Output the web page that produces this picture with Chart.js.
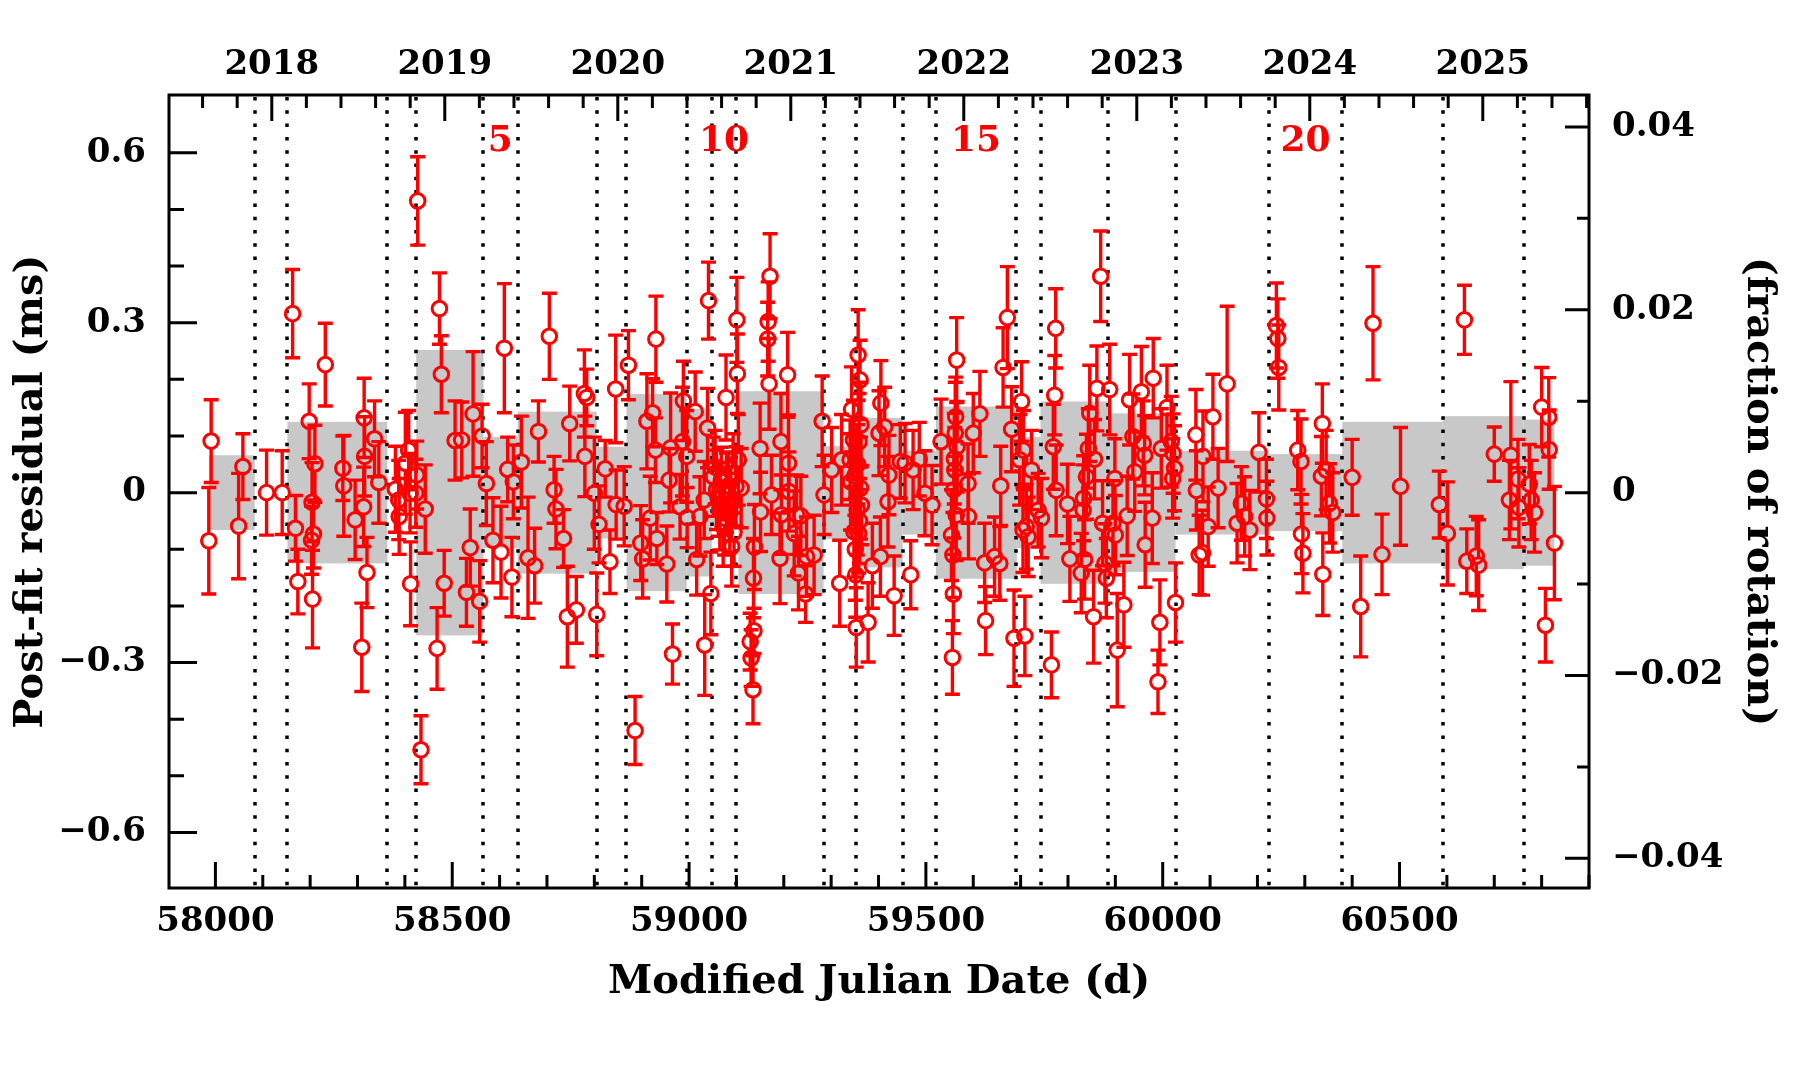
<!DOCTYPE html>
<html>
<head>
<meta charset="utf-8">
<script src="https://cdn.jsdelivr.net/npm/chart.js@4.4.0/dist/chart.umd.min.js"></script>
<style>
  html, body { margin: 0; padding: 0; background: #fff; }
  canvas { display: block; }
</style>
</head>
<body>
<canvas id="chart" width="1793" height="1081"></canvas>
<script>
"use strict";

// timing residuals: epoch (MJD), residual (ms), 1-sigma error (ms)
const MJD = [
  57986, 57991, 58049, 58058, 58108, 58141, 58163, 58169, 58174, 58198, 58203, 58204,
  58205, 58207, 58210, 58232, 58269, 58271, 58295, 58309, 58313, 58314, 58315, 58320,
  58336, 58345, 58380, 58387, 58388, 58401, 58408, 58411, 58412, 58423, 58425, 58427,
  58434, 58443, 58468, 58473, 58477, 58483, 58506, 58520, 58530, 58538, 58544, 58558,
  58563, 58572, 58586, 58603, 58610, 58617, 58626, 58629, 58646, 58660, 58674, 58682,
  58705, 58715, 58719, 58735, 58743, 58748, 58762, 58779, 58780, 58784, 58800, 58805,
  58810, 58823, 58833, 58845, 58846, 58863, 58872, 58886, 58898, 58902, 58911, 58918,
  58923, 58929, 58930, 58932, 58953, 58958, 58961, 58965, 58981, 58986, 58988, 58995,
  58996, 59013, 59016, 59023, 59032, 59033, 59039, 59041, 59046, 59051, 59055, 59058,
  59062, 59065, 59068, 59072, 59075, 59078, 59079, 59083, 59086, 59088, 59090, 59093,
  59095, 59099, 59101, 59102, 59104, 59110, 59129, 59131, 59135, 59136, 59137, 59138,
  59150, 59151, 59166, 59167, 59169, 59171, 59174, 59192, 59194, 59195, 59208, 59210,
  59211, 59222, 59227, 59231, 59236, 59246, 59248, 59264, 59281, 59285, 59301, 59318,
  59322, 59340, 59341, 59343, 59347, 59348, 59350, 59351, 59352, 59353, 59355, 59356,
  59357, 59358, 59359, 59360, 59361, 59362, 59363, 59364, 59378, 59387, 59401, 59404,
  59405, 59413, 59420, 59422, 59433, 59446, 59456, 59468, 59473, 59486, 59498, 59513,
  59532, 59554, 59556, 59557, 59558, 59559, 59560, 59561, 59562, 59563, 59564, 59565,
  59566, 59589, 59590, 59600, 59614, 59624, 59626, 59645, 59656, 59658, 59663, 59672,
  59681, 59686, 59698, 59702, 59705, 59706, 59709, 59712, 59716, 59723, 59737, 59744,
  59765, 59769, 59772, 59774, 59775, 59799, 59804, 59828, 59832, 59833, 59835, 59839,
  59843, 59846, 59854, 59856, 59861, 59869, 59873, 59878, 59881, 59888, 59895, 59899,
  59900, 59904, 59918, 59925, 59930, 59937, 59941, 59955, 59959, 59962, 59963, 59978,
  59980, 59990, 59994, 59997, 60009, 60018, 60021, 60022, 60025, 60027, 60070, 60071,
  60077, 60084, 60085, 60096, 60106, 60117, 60136, 60157, 60166, 60173, 60184, 60203,
  60219, 60220, 60240, 60243, 60245, 60285, 60292, 60293, 60296, 60335, 60337, 60338,
  60345, 60352, 60359, 60400, 60418, 60444, 60463, 60502, 60584, 60601, 60637, 60642,
  60662, 60667, 60700, 60732, 60735, 60750, 60752, 60774, 60778, 60785, 60800, 60808,
  60815, 60816, 60827
];

const RESID = [
  -0.085, 0.091, -0.059, 0.046, 0.000, 0.000, 0.316, -0.063, -0.157, 0.126, -0.084, -0.017,
  -0.188, -0.073, 0.051, 0.226, 0.043, 0.012, -0.048, -0.273, -0.025, 0.132, 0.064, -0.141,
  0.095, 0.018, 0.006, -0.013, -0.042, 0.052, 0.075, -0.001, -0.161, -0.001, 0.031, 0.515,
  -0.454, -0.029, -0.275, 0.325, 0.209, -0.160, 0.092, 0.093, -0.176, -0.097, 0.139, -0.192,
  0.100, 0.016, -0.084, -0.105, 0.255, 0.041, -0.149, 0.019, 0.054, -0.115, -0.129, 0.108,
  0.276, 0.005, -0.029, -0.081, -0.219, 0.122, -0.207, 0.175, 0.064, 0.168, -0.001, -0.215,
  -0.056, 0.042, -0.122, 0.183, -0.021, -0.024, 0.225, -0.420, -0.089, -0.117, 0.126, -0.045,
  0.141, 0.075, 0.271, -0.081, -0.126, 0.022, 0.079, -0.285, -0.025, 0.090, 0.162, 0.064,
  -0.044, 0.143, -0.118, -0.042, -0.013, -0.269, 0.114, 0.339, -0.178, 0.028, 0.045, 0.005,
  -0.012, -0.031, 0.020, -0.060, -0.045, 0.168, 0.000, 0.012, -0.036, -0.020, -0.095, 0.034,
  -0.070, 0.011, 0.305, 0.210, 0.058, 0.008, -0.263, -0.292, -0.348, -0.151, -0.244, -0.096,
  0.078, -0.034, 0.271, 0.302, 0.192, 0.382, -0.004, -0.116, 0.090, -0.039, 0.208, 0.052,
  0.002, -0.072, -0.039, -0.142, -0.041, -0.179, -0.113, -0.110, 0.126, -0.004, 0.040, -0.160,
  0.058, 0.058, 0.019, 0.147, 0.093, -0.069, 0.030, -0.100, -0.145, -0.238, -0.030, 0.050,
  0.243, -0.072, 0.090, -0.050, 0.199, 0.008, 0.120, -0.022, -0.229, -0.129, 0.105, -0.113,
  0.158, 0.116, -0.016, 0.031, -0.182, 0.055, 0.052, -0.145, 0.040, 0.059, -0.001, -0.022,
  0.090, -0.075, -0.291, -0.110, -0.179, 0.005, 0.060, 0.040, 0.105, 0.134, -0.040, 0.234,
  0.081, 0.016, -0.042, 0.105, 0.139, -0.124, -0.226, -0.113, -0.125, 0.012, 0.221, 0.309,
  0.112, -0.257, 0.058, 0.161, -0.066, 0.075, -0.253, -0.060, -0.078, 0.040, -0.031, -0.045,
  -0.304, 0.081, 0.172, 0.290, 0.004, -0.020, -0.117, -0.142, -0.031, -0.010, -0.118, 0.028,
  0.078, 0.140, -0.219, 0.059, 0.184, 0.382, -0.054, -0.125, -0.151, 0.182, -0.054, 0.025,
  -0.075, -0.278, -0.198, -0.041, 0.164, 0.099, 0.037, 0.178, 0.087, 0.066, -0.092, -0.045,
  0.202, -0.334, -0.229, 0.078, 0.150, 0.090, 0.025, 0.069, 0.043, -0.194, 0.102, 0.004,
  -0.110, -0.106, 0.064, -0.060, 0.134, 0.008, 0.192, -0.054, -0.019, -0.042, -0.066, 0.071,
  -0.011, -0.045, 0.295, 0.272, 0.221, 0.075, 0.055, -0.073, -0.107, 0.029, 0.122, -0.144,
  0.040, -0.019, -0.035, 0.027, -0.201, 0.299, -0.109, 0.011, -0.021, -0.072, 0.305, -0.121,
  -0.112, -0.128, 0.068, -0.013, 0.066, 0.024, -0.026, 0.015, -0.013, -0.035, 0.151, -0.234,
  0.133, 0.076, -0.089
];

const ERR = [
  0.094, 0.073, 0.093, 0.058, 0.075, 0.074, 0.078, 0.058, 0.057, 0.066, 0.060, 0.070,
  0.086, 0.060, 0.068, 0.073, 0.057, 0.089, 0.070, 0.078, 0.070, 0.070, 0.070, 0.062,
  0.067, 0.072, 0.076, 0.070, 0.067, 0.090, 0.070, 0.070, 0.074, 0.060, 0.060, 0.078,
  0.060, 0.078, 0.072, 0.063, 0.068, 0.058, 0.070, 0.067, 0.060, 0.068, 0.110, 0.072,
  0.056, 0.074, 0.075, 0.081, 0.114, 0.057, 0.070, 0.065, 0.081, 0.107, 0.066, 0.054,
  0.076, 0.059, 0.070, 0.051, 0.089, 0.066, 0.059, 0.077, 0.071, 0.050, 0.099, 0.073,
  0.068, 0.050, 0.056, 0.095, 0.061, 0.070, 0.061, 0.060, 0.066, 0.069, 0.084, 0.074,
  0.060, 0.057, 0.076, 0.046, 0.067, 0.056, 0.097, 0.053, 0.057, 0.096, 0.070, 0.081,
  0.053, 0.070, 0.063, 0.070, 0.068, 0.089, 0.070, 0.068, 0.073, 0.070, 0.065, 0.070,
  0.065, 0.070, 0.060, 0.070, 0.065, 0.075, 0.070, 0.060, 0.070, 0.065, 0.070, 0.070,
  0.060, 0.070, 0.075, 0.070, 0.080, 0.070, 0.050, 0.050, 0.060, 0.070, 0.040, 0.075,
  0.080, 0.070, 0.065, 0.070, 0.080, 0.075, 0.070, 0.080, 0.085, 0.070, 0.075, 0.085,
  0.070, 0.075, 0.070, 0.065, 0.070, 0.050, 0.070, 0.070, 0.080, 0.070, 0.075, 0.076,
  0.080, 0.070, 0.085, 0.075, 0.070, 0.080, 0.070, 0.090, 0.075, 0.070, 0.080, 0.070,
  0.080, 0.070, 0.085, 0.075, 0.070, 0.090, 0.075, 0.070, 0.070, 0.075, 0.075, 0.070,
  0.075, 0.070, 0.080, 0.070, 0.070, 0.065, 0.070, 0.060, 0.070, 0.065, 0.075, 0.070,
  0.075, 0.080, 0.065, 0.075, 0.070, 0.085, 0.080, 0.075, 0.090, 0.070, 0.080, 0.075,
  0.080, 0.070, 0.075, 0.070, 0.075, 0.070, 0.060, 0.070, 0.065, 0.070, 0.070, 0.090,
  0.075, 0.085, 0.080, 0.070, 0.075, 0.070, 0.070, 0.075, 0.070, 0.070, 0.065, 0.070,
  0.058, 0.075, 0.070, 0.070, 0.080, 0.070, 0.075, 0.070, 0.080, 0.075, 0.070, 0.075,
  0.070, 0.085, 0.082, 0.070, 0.075, 0.080, 0.075, 0.070, 0.070, 0.080, 0.075, 0.070,
  0.070, 0.100, 0.075, 0.070, 0.080, 0.075, 0.070, 0.080, 0.075, 0.070, 0.075, 0.080,
  0.070, 0.056, 0.075, 0.070, 0.075, 0.080, 0.070, 0.070, 0.075, 0.070, 0.080, 0.070,
  0.070, 0.075, 0.080, 0.070, 0.075, 0.070, 0.137, 0.070, 0.065, 0.070, 0.070, 0.070,
  0.070, 0.065, 0.075, 0.070, 0.075, 0.070, 0.075, 0.070, 0.070, 0.070, 0.070, 0.073,
  0.070, 0.070, 0.070, 0.067, 0.089, 0.100, 0.071, 0.104, 0.059, 0.091, 0.061, 0.057,
  0.070, 0.080, 0.048, 0.070, 0.130, 0.070, 0.070, 0.070, 0.070, 0.070, 0.070, 0.065,
  0.070, 0.070, 0.100
];

// segment boundaries (dotted lines), MJD
const SEG_LINES = [
  58083, 58151, 58362, 58424, 58565, 58638, 58805, 58867, 58995, 59048, 59100, 59285,
  59352, 59451, 59521, 59691, 59742, 59885, 60027, 60224, 60379, 60591, 60762
];
const SEG_NUMBERS = [5, 10, 15, 20];

// grey bands: start, end (MJD) and half height (ms)
const BAND_START = [57986, 58152, 58424, 58566, 58638, 58805, 58868, 58995, 59048, 59104, 59284,
  59352, 59451, 59521, 59692, 59742, 59885, 60027, 60224, 60379, 60591, 60762];
const BAND_END = [58083, 58363, 58566, 58638, 58805, 58868, 58995, 59048, 59100, 59284, 59352,
  59451, 59521, 59692, 59742, 59885, 60027, 60224, 60379, 60591, 60762, 60827];
const BAND_HALF = [0.066, 0.125, 0.252, 0.098, 0.143, 0.081, 0.174, 0.148, 0.060, 0.179, 0.082,
  0.132, 0.074, 0.152, 0.098, 0.161, 0.140, 0.074, 0.068, 0.125, 0.135, 0.129];

// axes
const X_TICKS = [58000, 58500, 59000, 59500, 60000, 60500];
const YEAR_TICKS = [2018, 2019, 2020, 2021, 2022, 2023, 2024, 2025];
const Y_TICKS = [-0.6, -0.3, 0, 0.3, 0.6];
const FRAC_TICKS = [-0.04, -0.02, 0, 0.02, 0.04];

const PERIOD_MS = 16.14;
const X_MIN = 57902, X_MAX = 60900;
const Y_MIN = -0.698, Y_MAX = 0.702;

const RED = "#ff0000";
const BAND_GRAY = "#c8c8c8";
const TICK_FONT = { family: "'DejaVu Serif'", size: 34, weight: "bold" };
const TITLE_FONT = { family: "'DejaVu Serif'", size: 40, weight: "bold" };
const MARK_R = 7.3;
const CAP = 7.5;


function yearOf(mjd) {
    return 2018 + (mjd - 58119) / 365.25;
}

function fmtTick(v) {
    let s = (Math.round(v * 1000) / 1000).toString();
    return s.replace("-", "\u2212");
}

function setTicks(list) {
    return function(scale) {
        scale.ticks = list.map(v => ({ value: v }));
    };
}

function line(ctx, x0, y0, x1, y1) {
    ctx.moveTo(x0, y0);
    ctx.lineTo(x1, y1);
}


// bands, dotted segment lines and error bars, under the markers
const underlay = {
    id: "underlay",
    beforeDatasetsDraw(chart) {
        const { ctx, chartArea: a, scales: { x, y } } = chart;
        ctx.save();
        ctx.beginPath();
        ctx.rect(a.left, a.top, a.right - a.left, a.bottom - a.top);
        ctx.clip();

        ctx.fillStyle = BAND_GRAY;
        for (let i = 0; i < BAND_START.length; i++) {
            let x0 = x.getPixelForValue(BAND_START[i]);
            let x1 = x.getPixelForValue(BAND_END[i]);
            let y0 = y.getPixelForValue(BAND_HALF[i]);
            let y1 = y.getPixelForValue(-BAND_HALF[i]);
            ctx.fillRect(x0, y0, x1 - x0, y1 - y0);
        }

        ctx.strokeStyle = "#000";
        ctx.lineWidth = 3.5;
        ctx.setLineDash([3.5, 9.8]);
        for (const m of SEG_LINES) {
            let px = Math.round(x.getPixelForValue(m));
            ctx.beginPath();
            line(ctx, px, a.top + 2, px, a.bottom);
            ctx.stroke();
        }
        ctx.setLineDash([]);

        ctx.strokeStyle = RED;
        ctx.lineWidth = 3.4;
        for (let i = 0; i < MJD.length; i++) {
            let px = x.getPixelForValue(MJD[i]);
            let py = y.getPixelForValue(RESID[i]);
            let hi = y.getPixelForValue(RESID[i] + ERR[i]);
            let lo = y.getPixelForValue(RESID[i] - ERR[i]);
            ctx.beginPath();
            if (py - MARK_R > hi) line(ctx, px, hi, px, py - MARK_R);
            if (lo > py + MARK_R) line(ctx, px, py + MARK_R, px, lo);
            line(ctx, px - CAP, hi, px + CAP, hi);
            line(ctx, px - CAP, lo, px + CAP, lo);
            ctx.stroke();
        }
        ctx.restore();
    }
};


// frame, inward tick marks and the segment numbers
const overlay = {
    id: "overlay",
    afterDraw(chart) {
        const { ctx, chartArea: a, scales } = chart;
        const x = scales.x, xTop = scales.xTop, y = scales.y, yRight = scales.yRight;
        ctx.save();
        ctx.strokeStyle = "#000";
        ctx.lineWidth = 3;
        ctx.beginPath();

        // bottom: major 500 d, minor 100 d
        for (let m = 58000; m <= X_MAX; m += 100) {
            let px = x.getPixelForValue(m);
            let len = X_TICKS.includes(m) ? 26 : 13;
            line(ctx, px, a.bottom, px, a.bottom - len);
        }
        for (let m = 57900; m > X_MIN; m -= 100) {
            let px = x.getPixelForValue(m);
            line(ctx, px, a.bottom, px, a.bottom - 13);
        }

        // top: years, minor every 0.2 yr
        for (let k = 2017 * 5; k <= 2026 * 5; k++) {
            let yr = k / 5;
            if (yr < xTop.min || yr > xTop.max) continue;
            let px = xTop.getPixelForValue(yr);
            let len = (k % 5 === 0) ? 26 : 13;
            line(ctx, px, a.top, px, a.top + len);
        }

        // left: major 0.3 ms, minor 0.1 ms
        for (let k = -6; k <= 6; k++) {
            let py = y.getPixelForValue(k / 10);
            let len = (k % 3 === 0) ? 28 : 15;
            line(ctx, a.left, py, a.left + len, py);
        }

        // right: major 0.02, minor 0.01 rotation
        for (let k = -4; k <= 4; k++) {
            let py = yRight.getPixelForValue(k / 100);
            let len = (k % 2 === 0) ? 24 : 12;
            line(ctx, a.right, py, a.right - len, py);
        }
        ctx.stroke();

        ctx.lineWidth = 3;
        ctx.strokeRect(a.left, a.top, a.right - a.left, a.bottom - a.top);

        ctx.fillStyle = RED;
        ctx.font = "bold 36px 'DejaVu Serif'";
        ctx.textAlign = "center";
        ctx.textBaseline = "middle";
        for (const n of SEG_NUMBERS) {
            let mid = (SEG_LINES[n - 1] + SEG_LINES[n]) / 2;
            ctx.fillText(String(n), x.getPixelForValue(mid), a.top + 47);
        }
        ctx.restore();
    }
};


const points = MJD.map((m, i) => ({ x: m, y: RESID[i] }));

const tickOpts = (pad) => ({
    autoSkip: false, maxRotation: 0, minRotation: 0,
    padding: pad, color: "#000", font: TICK_FONT
});

new Chart(document.getElementById("chart"), {
    type: "scatter",
    data: {
        datasets: [{
            data: points,
            pointStyle: "circle",
            pointRadius: MARK_R,
            pointHoverRadius: MARK_R,
            pointBorderWidth: 3,
            pointHoverBorderWidth: 3,
            pointBorderColor: RED,
            borderColor: RED,
            pointBackgroundColor: "rgba(0,0,0,0)",
            backgroundColor: "rgba(0,0,0,0)"
        }]
    },
    options: {
        responsive: false,
        devicePixelRatio: 1,
        animation: false,
        events: [],
        layout: { padding: 0 },
        plugins: { legend: { display: false }, tooltip: { enabled: false } },
        scales: {
            x: {
                type: "linear", position: "bottom", min: X_MIN, max: X_MAX,
                afterBuildTicks: setTicks(X_TICKS),
                afterFit: s => { s.height = 193; },
                grid: { display: false, drawTicks: false },
                border: { display: false },
                ticks: Object.assign(tickOpts(14), { callback: v => String(v) }),
                title: { display: true, text: "Modified Julian Date (d)", color: "#000",
                         font: TITLE_FONT, padding: { top: 0, bottom: 74 } }
            },
            xTop: {
                type: "linear", position: "top", min: yearOf(X_MIN), max: yearOf(X_MAX),
                afterBuildTicks: setTicks(YEAR_TICKS),
                afterFit: s => { s.height = 95; },
                grid: { display: false, drawTicks: false },
                border: { display: false },
                ticks: Object.assign(tickOpts(9), { callback: v => String(v) })
            },
            y: {
                type: "linear", position: "left", min: Y_MIN, max: Y_MAX,
                afterBuildTicks: setTicks(Y_TICKS),
                afterFit: s => { s.width = 169; },
                grid: { display: false, drawTicks: false },
                border: { display: false },
                ticks: Object.assign(tickOpts(23), { callback: fmtTick }),
                title: { display: true, text: "Post-fit residual (ms)", color: "#000",
                         font: TITLE_FONT, padding: { top: 8, bottom: 0 } }
            },
            yRight: {
                type: "linear", position: "right",
                min: Y_MIN / PERIOD_MS, max: Y_MAX / PERIOD_MS,
                afterBuildTicks: setTicks(FRAC_TICKS),
                afterFit: s => { s.width = 204; },
                grid: { display: false, drawTicks: false },
                border: { display: false },
                ticks: Object.assign(tickOpts(23), { callback: fmtTick }),
                title: { display: true, text: "(fraction of rotation)", color: "#000",
                         font: TITLE_FONT, padding: { top: 11, bottom: 0 } }
            }
        }
    },
    plugins: [underlay, overlay]
});
</script>
</body>
</html>
